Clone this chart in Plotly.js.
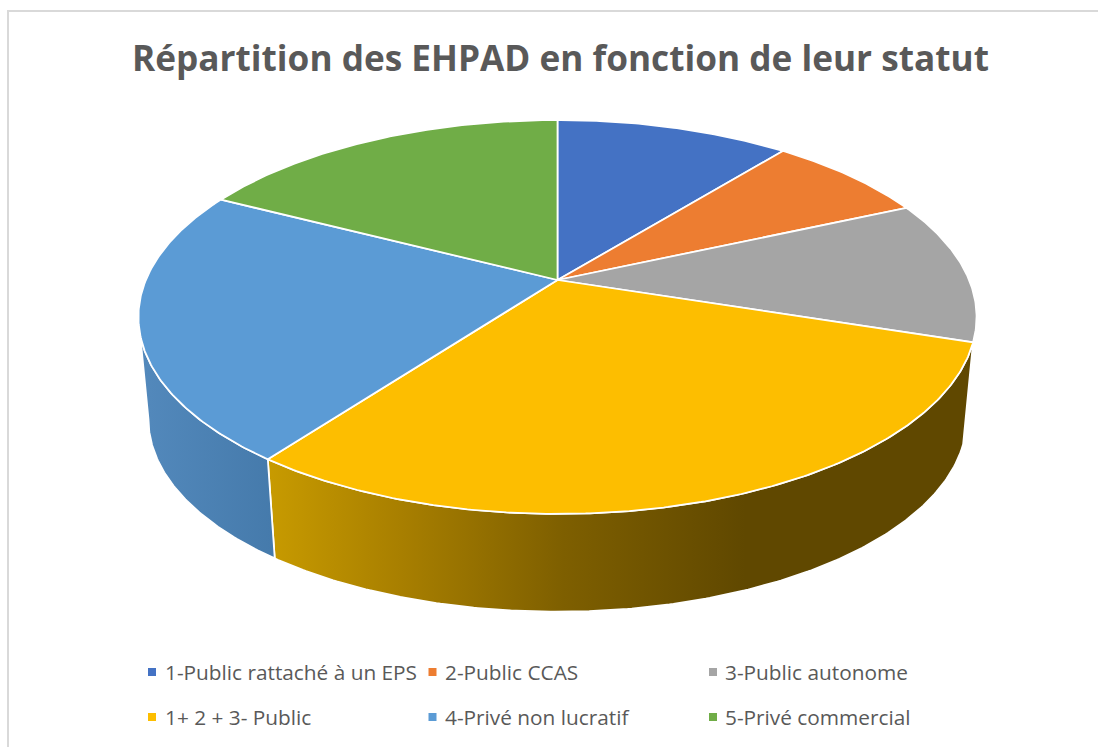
<!DOCTYPE html>
<html><head><meta charset="utf-8">
<script src="https://cdn.plot.ly/plotly-3.0.1.min.js"></script>
<style>html,body{margin:0;padding:0;background:#fff}</style></head>
<body><div id="chart" style="width:1098px;height:747px"></div>
<script>
var categories = ["1-Public rattaché à un EPS","2-Public CCAS","3-Public autonome","1+ 2 + 3- Public","4-Privé non lucratif","5-Privé commercial"];
var shares = [10.8,7.5,11.7,30.2,22.4,17.4];
var colors = ["#4472C4","#ED7D31","#A5A5A5","#FDBE00","#5B9BD5","#70AD47"];
var titleText = "Répartition des EHPAD en fonction de leur statut";

/* projection of the tilted disc */
var apexX=557.5, apexY=280, a=411.6, b=190, k=0.1878, lowerY=383.4, lowerS=0.976;
function rad(d){return d*Math.PI/180;}
function top_(d){var X=Math.sin(rad(d)),Y=Math.cos(rad(d)),w=1+k*Y;return [apexX+a*X/w, apexY-b*Y/w];}
function low_(d){var p=top_(d);return [apexX+(p[0]-apexX)*lowerS, lowerY+(p[1]-apexY)*lowerS];}
function sweep(f,d0,d1){var n=Math.max(2,Math.ceil(Math.abs(d1-d0))*2),o=[];for(var i=0;i<=n;i++){o.push(f(d0+(d1-d0)*i/n));}return o;}

var total=shares.reduce(function(s,v){return s+v;},0), edges=[0];
shares.forEach(function(v){edges.push(edges[edges.length-1]+v/total*360);});

function wall(d0,d1,scale,start,stop,name){
  var pts=sweep(top_,d0,d1).concat(sweep(low_,d1,d0)); pts.push(pts[0]);
  return {type:'scatter',mode:'lines',x:pts.map(function(p){return p[0];}),y:pts.map(function(p){return p[1];}),
    fill:'toself',fillgradient:{type:'horizontal',colorscale:scale,start:start,stop:stop},
    line:{color:'#fff',width:1.75},hoverinfo:'skip',showlegend:false,name:name};
}
var traces=[];
traces.push(wall(edges[3],edges[4],[[0,'#C89B00'],[0.28,'#A87F00'],[0.62,'#7E5F00'],[1,'#604800']],267,745,categories[3]));
traces.push(wall(edges[4],259.2,[[0,'#5389BC'],[1,'#457AAB']],140,275,categories[4]));
shares.forEach(function(v,i){
  var pts=[[apexX,apexY]].concat(sweep(top_,edges[i],edges[i+1])); pts.push([apexX,apexY]);
  traces.push({type:'scatter',mode:'lines',x:pts.map(function(p){return p[0];}),y:pts.map(function(p){return p[1];}),
    fill:'toself',fillcolor:colors[i],line:{color:'#fff',width:1.75},name:categories[i],showlegend:false,
    hoverinfo:'name'});
});

/* legend */
var legX=[152,432.5,713,152,432.5,713], legY=[672,672,672,717,717,717], legTxt=[165,445,725,165,445,725];
traces.push({type:'scatter',mode:'markers',x:legX,y:legY,marker:{symbol:'square',size:8,color:colors},hoverinfo:'skip',showlegend:false});
var ann=categories.map(function(c,i){return {text:c,x:legTxt[i],y:legY[i],xref:'x',yref:'y',xanchor:'left',yanchor:'middle',showarrow:false,
  xshift:-2,font:{family:'"Open Sans",sans-serif',size:20.8,color:'#595959'}};});

var layout={width:1098,height:747,margin:{l:0,r:0,t:0,b:0},paper_bgcolor:'#fff',plot_bgcolor:'#fff',showlegend:false,
  title:{text:titleText,x:560.5/1098,xanchor:'center',y:1-59/747,yanchor:'middle',font:{family:'"Open Sans",sans-serif',size:35.2,color:'#595959',weight:700}},
  xaxis:{range:[0,1098],visible:false,fixedrange:true},
  yaxis:{range:[747,0],visible:false,fixedrange:true},
  annotations:ann,
  shapes:[{type:'line',xref:'x',yref:'y',x0:8,x1:8,y0:10,y1:747,line:{color:'#D9D9D9',width:2}},
          {type:'line',xref:'x',yref:'y',x0:7,x1:1098,y0:11,y1:11,line:{color:'#D9D9D9',width:2}}]};
Plotly.newPlot('chart',traces,layout,{displayModeBar:false,staticPlot:true});
</script></body></html>
